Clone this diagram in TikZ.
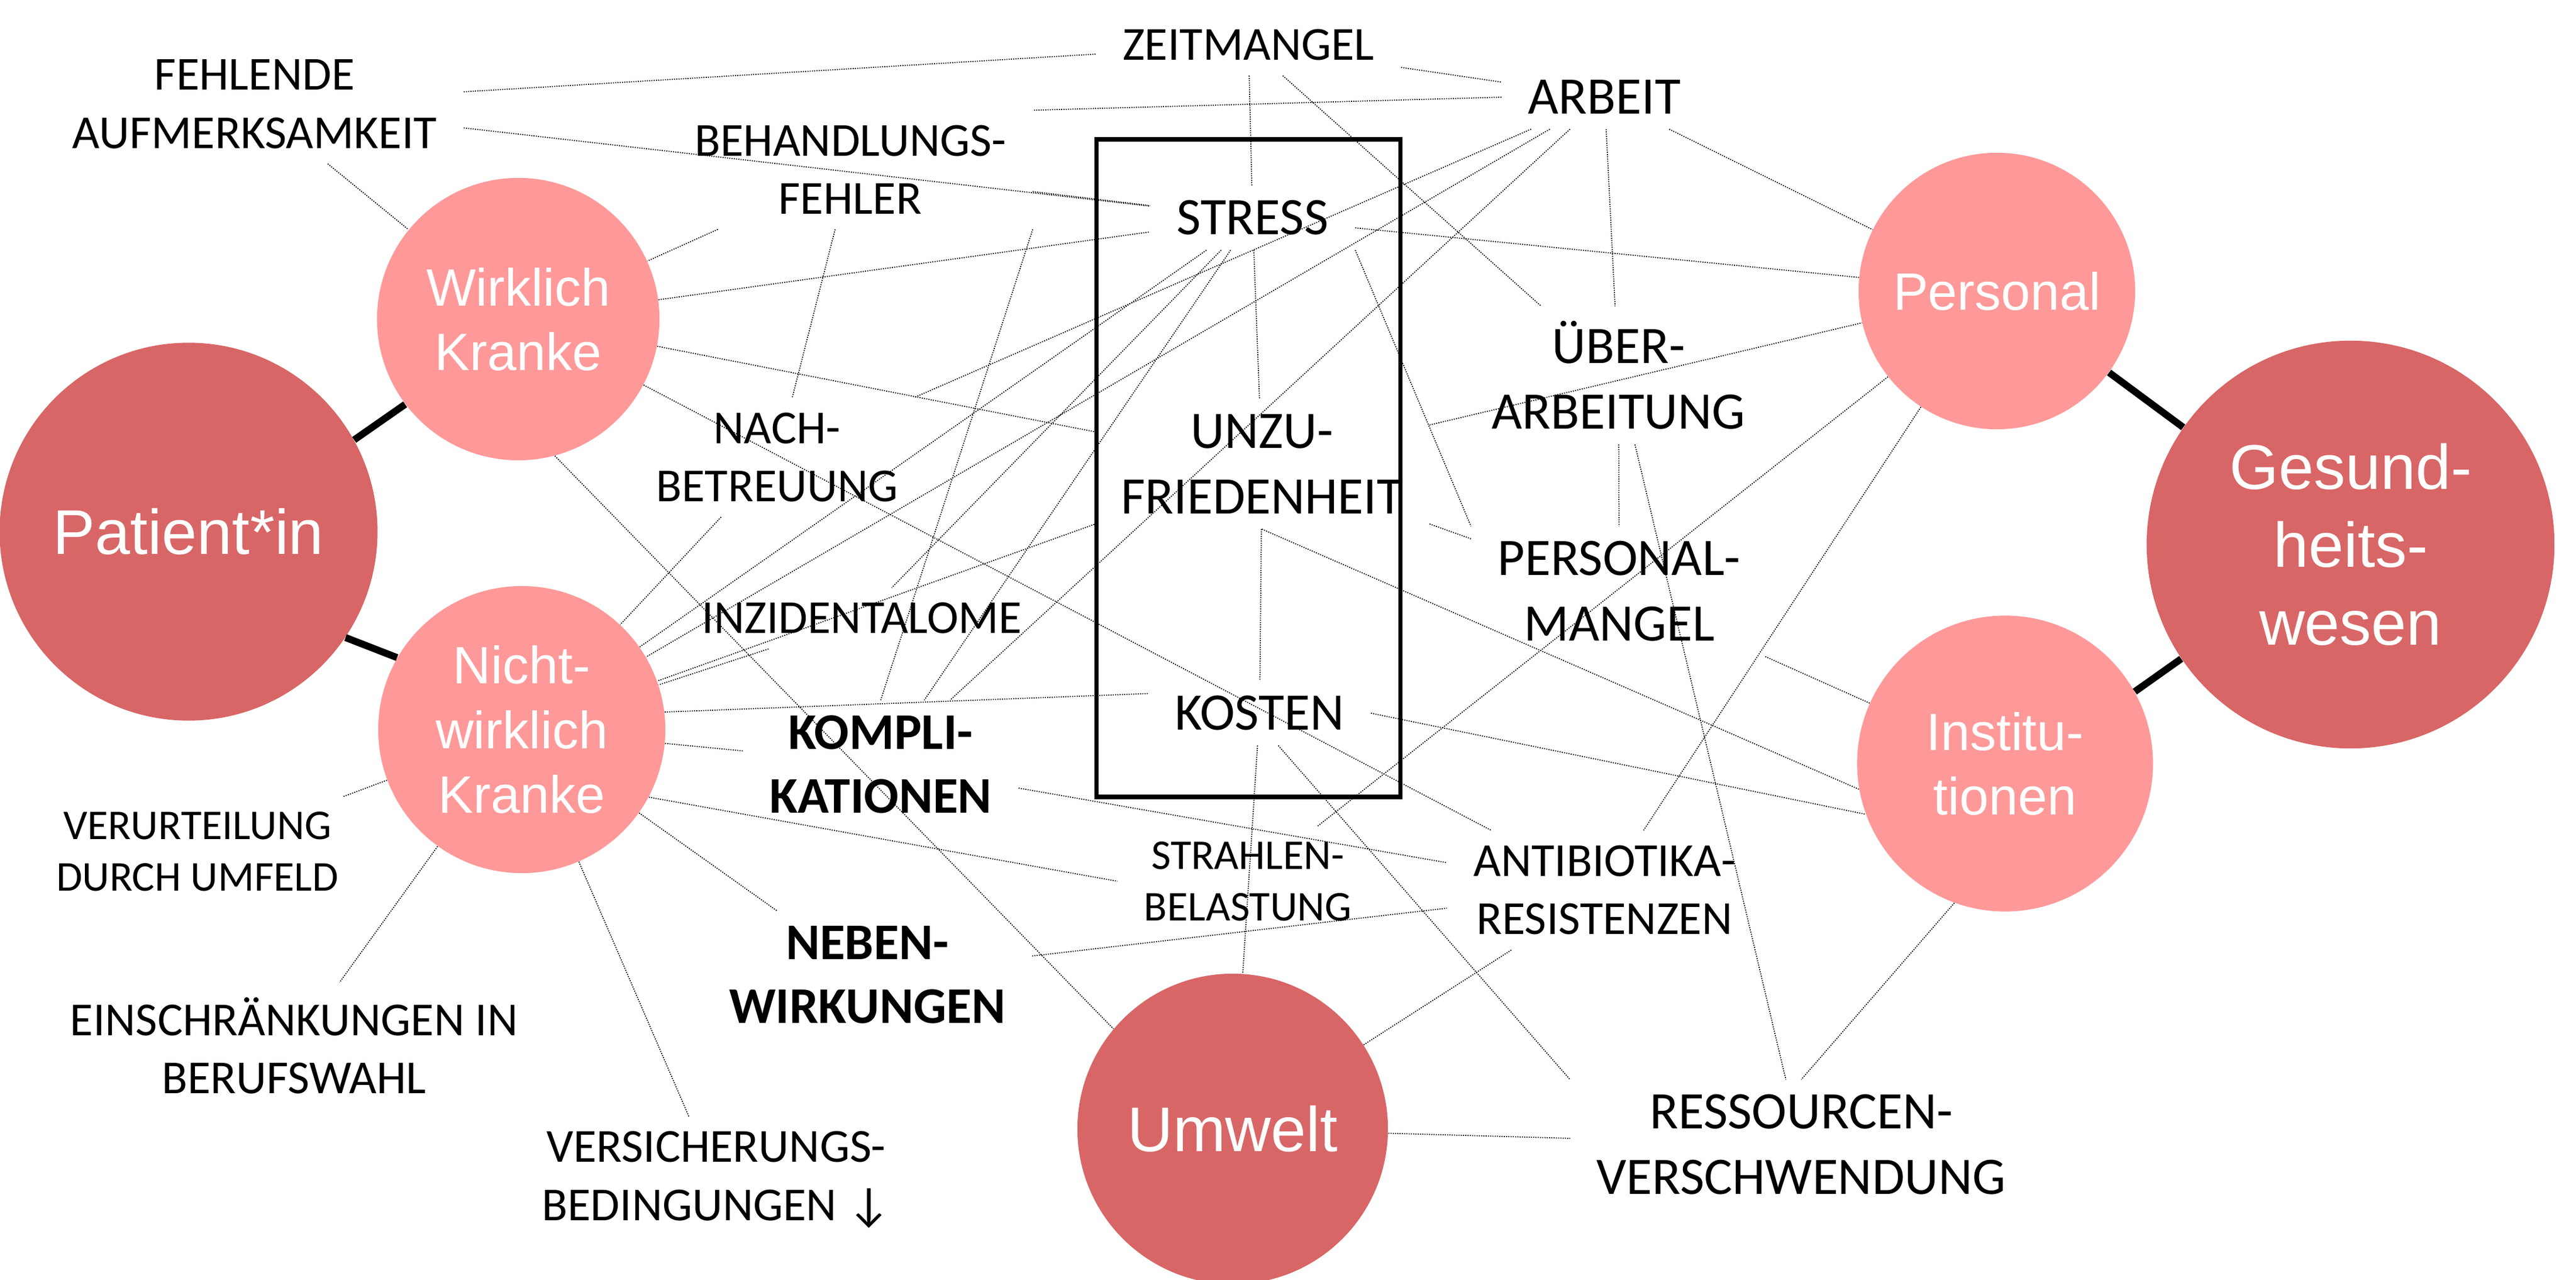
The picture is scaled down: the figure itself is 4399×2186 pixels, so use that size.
\documentclass[tikz,border=0pt]{standalone}
\usepackage{fontspec}
\setmainfont{Carlito}
\newfontfamily\arialfont{Liberation Sans}
\definecolor{rosedark}{HTML}{D86666}
\definecolor{roselight}{HTML}{FF9999}
\tikzset{
  lbl/.style={align=center, inner xsep=0.45cm, inner ysep=0.25cm, font=\fontsize{23}{28.3}\selectfont},
  lblbig/.style={lbl, font=\fontsize{25.6}{31.9}\selectfont},
  lblbold/.style={lbl, font=\bfseries\fontsize{25}{31}\selectfont},
  lblsmall/.style={lbl, font=\fontsize{20.6}{25}\selectfont},
  circ/.style={circle, inner sep=0pt, align=center, text=white, fill=roselight, font=\arialfont\fontsize{25.5}{31.3}\selectfont},
  bigcirc/.style={circ, fill=rosedark, font=\arialfont\fontsize{30.7}{37.8}\selectfont},
  link/.style={line width=0.5pt, dash pattern=on 0.5pt off 0.6pt},
  tie/.style={line width=3.4pt},
}
\begin{document}
\begin{tikzpicture}[x=0.01cm, y=-0.01cm]
      \useasboundingbox (0,0) rectangle (4399,2186);
      \draw[line width=2pt] (1872,238) rectangle (2391,1361);
      \draw
        (322,908) node[bigcirc, minimum size=6.45cm] (pat) {Patient*in}
        (885,545) node[circ, minimum size=4.82cm] (wk) {Wirklich\\Kranke}
        (891,1246) node[circ, minimum size=4.9cm] (nwk) {Nicht-\\wirklich\\Kranke}
        (3410,497) node[circ, minimum size=4.72cm] (pers) {Personal}
        (4014,930) node[bigcirc, minimum size=6.96cm] (gw) {Gesund-\\heits-\\wesen}
        (3424,1304) node[circ, minimum size=5.05cm] (inst) {Institu-\\tionen}
        (2105,1928) node[bigcirc, minimum size=5.3cm] (umw) {Umwelt};
      \draw
        (435,178) node[lbl] (fehl) {FEHLENDE\\AUFMERKSAMKEIT}
        (2132,77) node[lbl] (zeit) {ZEITMANGEL}
        (2740,166) node[lblbig] (arbeit) {ARBEIT}
        (1452,290) node[lbl] (behand) {BEHANDLUNGS-\\FEHLER}
        (2139,372) node[lblbig] (stress) {STRESS}
        (2764,641) node[lblbig] (ueber) {ÜBER-\\ARBEITUNG}
        (1327,781) node[lbl] (nach) {NACH-\\BETREUUNG}
        (2155,793) node[lblbig] (unzu) {UNZU-\\FRIEDENHEIT}
        (2765,1010) node[lblbig] (pmangel) {PERSONAL-\\MANGEL}
        (1472,1056) node[lbl] (inzid) {INZIDENTALOME}
        (1504,1305) node[lblbold] (kompl) {KOMPLI-\\KATIONEN}
        (2151,1218) node[lblbig] (kosten) {KOSTEN}
        (2131,1505) node[lblsmall] (strahl) {STRAHLEN-\\BELASTUNG}
        (2740,1520) node[lbl] (antib) {ANTIBIOTIKA-\\RESISTENZEN}
        (1481,1665) node[lblbold] (neben) {NEBEN-\\WIRKUNGEN}
        (337,1454) node[lblsmall] (verurt) {VERURTEILUNG\\DURCH UMFELD}
        (502,1786) node[lbl] (einschr) {EINSCHRÄNKUNGEN IN\\BERUFSWAHL}
        (1223,2015) node[lbl] (versich) {VERSICHERUNGS-\\BEDINGUNGEN ↓}
        (3076,1955) node[lblbig] (ress) {RESSOURCEN-\\VERSCHWENDUNG};
      \begin{scope}[link]
        \draw (fehl) to (zeit);
        \draw (fehl) to (stress);
        \draw (fehl) to (wk);
        \draw (behand) to (wk);
        \draw (behand) to (stress);
        \draw (behand) to (nach);
        \draw (behand.south east) to (kompl.north);
        \draw (wk) to (stress);
        \draw (wk) to (unzu);
        \draw (wk) to (antib);
        \draw (wk.-75) to (umw.140);
        \draw (zeit) to (arbeit);
        \draw (zeit) to (stress);
        \draw (zeit) to (ueber);
        \draw (arbeit.west) to (behand.north east);
        \draw (arbeit) to (nach);
        \draw (arbeit) to (nwk);
        \draw (arbeit) to (kompl);
        \draw (arbeit) to (ueber);
        \draw (arbeit) to (pers);
        \draw (stress) to (pers);
        \draw (stress) to (unzu);
        \draw (stress.south east) to (pmangel.north west);
        \draw (stress) to (nwk);
        \draw (stress) to (inzid);
        \draw (stress) to (kompl);
        \draw (unzu) to (kosten);
        \draw (unzu) to (pers);
        \draw (unzu) to (pmangel);
        \draw (unzu.south) to (inst.190);
        \draw (unzu) to (nwk);
        \draw (nach) to (nwk);
        \draw (inzid) to (nwk);
        \draw (nwk.7) to (kosten.170);
        \draw (nwk) to (kompl);
        \draw (nwk.-28) to (strahl.west);
        \draw (nwk) to (neben);
        \draw (nwk) to (verurt);
        \draw (nwk) to (einschr);
        \draw (nwk) to (versich);
        \draw (kompl) to (antib);
        \draw (neben) to (antib);
        \draw (kosten) to (umw);
        \draw (kosten.east) to (inst.200);
        \draw (kosten.-60) to (ress.north west);
        \draw (ueber) to (pmangel);
        \draw (ueber) to (ress);
        \draw (pmangel) to (inst);
        \draw (pers) to (strahl);
        \draw (pers) to (antib);
        \draw (inst.250) to (ress.north);
        \draw (umw) to (ress);
        \draw (umw) to (antib);
      \end{scope}
      \begin{scope}[tie]
        \draw (pat.29) to (wk.217);
        \draw (pat.-34) to (nwk.150);
        \draw (pers.-36) to (gw.145);
        \draw (inst.29) to (gw.214);
      \end{scope}
    \end{tikzpicture}
\end{document}
